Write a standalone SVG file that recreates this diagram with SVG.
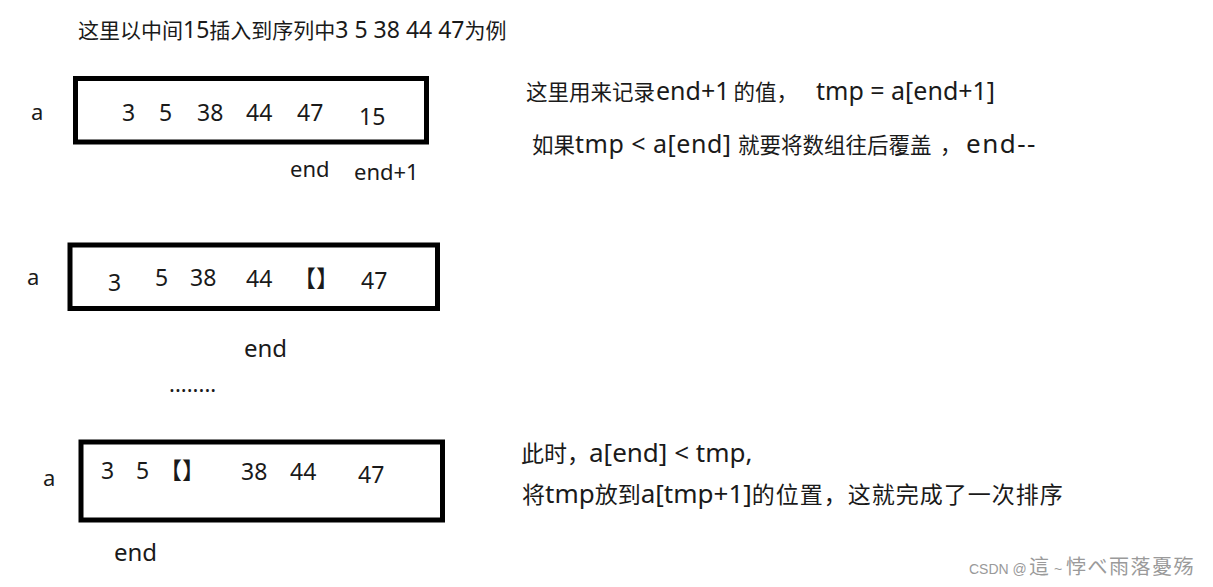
<svg xmlns="http://www.w3.org/2000/svg" width="1213" height="587" viewBox="0 0 1213 587">
<style>
  text { font-family: "Noto Sans", "Noto Sans CJK SC", sans-serif; fill: #1a1a1a; }
  .t { font-size: 21px; }
  .tl { font-size: 23px; }
  .n { font-size: 23px; }
  .lbl { font-size: 22px; }
  .e { font-size: 24px; }
  .c1 { font-size: 21.5px; }
  .l1 { font-size: 25px; }
  .c2 { font-size: 23px; }
  .l2 { font-size: 26px; }
  .box { fill: #ffffff; stroke: #000000; stroke-width: 5; }
  .wm { font-family: "Liberation Sans", "Noto Sans CJK SC", sans-serif; font-size: 14px; fill: #9a9a9a; }
  .wmc { font-size: 20px; letter-spacing: 1.5px; }
</style>
<rect x="0" y="0" width="1213" height="587" fill="#ffffff"/>
<text class="t" x="78" y="38">这里以中间<tspan class="tl">15</tspan>插入到序列中<tspan class="tl">3 5 38 44 47</tspan>为例</text>

<g id="row1">
  <text class="lbl" x="31" y="120">a</text>
  <rect class="box" x="75.5" y="78.5" width="351" height="63.5"/>
  <text class="n" x="122" y="121">3</text>
  <text class="n" x="159" y="121">5</text>
  <text class="n" x="197" y="121">38</text>
  <text class="n" x="246" y="121">44</text>
  <text class="n" x="297" y="121">47</text>
  <text class="n" x="359" y="125">15</text>
  <text class="lbl" x="290" y="177">end</text>
  <text class="lbl" x="354" y="180">end+1</text>
</g>

<g id="note1">
  <text class="c1" x="526" y="100">这里用来记录<tspan class="l1" dx="1">end+1</tspan><tspan dx="4">的值，</tspan><tspan class="l1" x="816">tmp = a[end+1]</tspan></text>
  <text class="c1" y="153"><tspan x="532">如果</tspan><tspan class="l1" letter-spacing="0.5">tmp &lt; a[end]</tspan><tspan x="738">就要将数组往后覆盖</tspan><tspan x="940">，</tspan><tspan class="l2" x="966" letter-spacing="1.5">end--</tspan></text>
</g>

<g id="row2">
  <text class="lbl" x="27" y="285">a</text>
  <rect class="box" x="70" y="245" width="367.5" height="63.5"/>
  <text class="n" x="108" y="291">3</text>
  <text class="n" x="155" y="286">5</text>
  <text class="n" x="190" y="286">38</text>
  <text class="n" x="246" y="287">44</text>
  <text class="n" x="293" y="287">【】</text>
  <text class="n" x="361" y="289">47</text>
  <text class="e" x="244" y="357">end</text>
  <text class="lbl" x="169" y="392">........</text>
</g>

<g id="row3">
  <text class="lbl" x="43" y="486">a</text>
  <rect class="box" x="81" y="442" width="361.5" height="78"/>
  <text class="n" x="101" y="479">3</text>
  <text class="n" x="136" y="479">5</text>
  <text class="n" x="159" y="479">【】</text>
  <text class="n" x="241" y="480">38</text>
  <text class="n" x="290" y="480">44</text>
  <text class="n" x="358" y="483">47</text>
  <text class="e" x="114" y="561">end</text>
</g>

<g id="note2">
  <text class="c2" y="462"><tspan x="521">此时，</tspan><tspan class="l2" x="589">a[end] &lt; tmp,</tspan></text>
  <text class="c2" x="522" y="503">将<tspan class="l2">tmp</tspan>放到<tspan class="l2">a[tmp+1]</tspan><tspan letter-spacing="1">的位置，这就完成了一次排序</tspan></text>
</g>

<text class="wm" y="574"><tspan x="969">CSDN @</tspan><tspan class="wmc" x="1029">這</tspan><tspan x="1054">~</tspan><tspan class="wmc" x="1066">悖べ雨落憂殇</tspan></text>
</svg>
